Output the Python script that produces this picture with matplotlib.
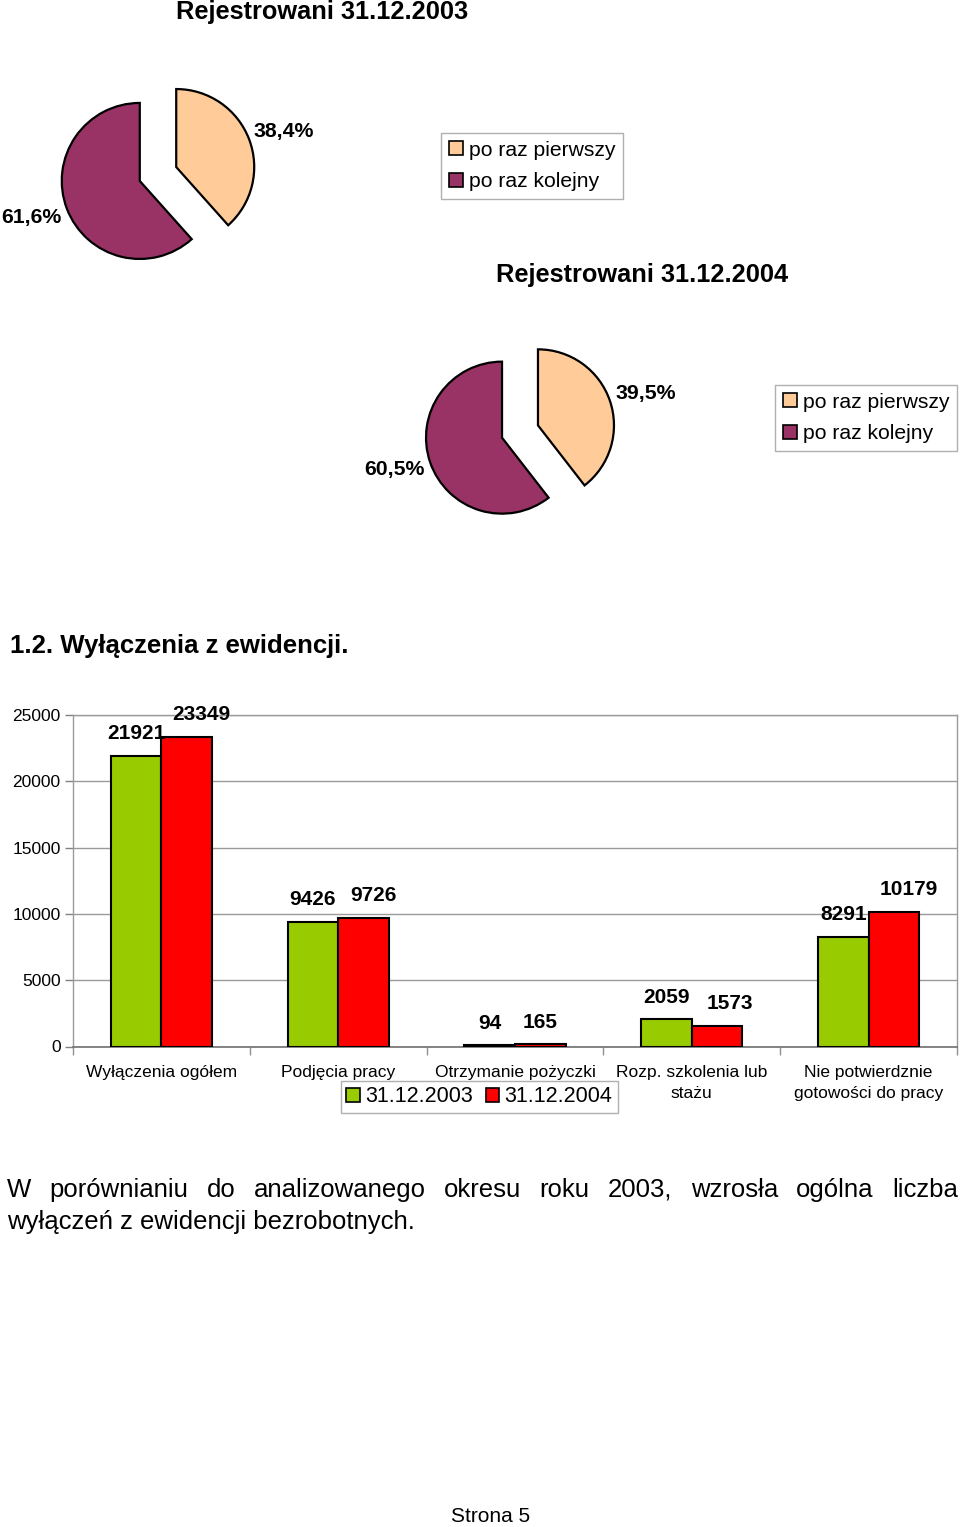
import matplotlib
matplotlib.use('Agg')
import matplotlib.pyplot as plt
from matplotlib.patches import Patch
import numpy as np

plt.rcParams['font.family'] = ['Liberation Sans', 'DejaVu Sans']

# ---------------- data ----------------
pie_labels = ['po raz pierwszy', 'po raz kolejny']
pie_2003 = [38.4, 61.6]
pie_2004 = [39.5, 60.5]
pie_titles = ['Rejestrowani 31.12.2003', 'Rejestrowani 31.12.2004']

section_title = '1.2. Wyłączenia z ewidencji.'
categories = ['Wyłączenia ogółem', 'Podjęcia pracy', 'Otrzymanie pożyczki',
              'Rozp. szkolenia lub\nstażu', 'Nie potwierdznie\ngotowości do pracy']
series_names = ['31.12.2003', '31.12.2004']
values_2003 = [21921, 9426, 94, 2059, 8291]
values_2004 = [23349, 9726, 165, 1573, 10179]
y_ticks = [0, 5000, 10000, 15000, 20000, 25000]

paragraph_line1 = 'W porównianiu do analizowanego okresu roku 2003, wzrosła ogólna liczba'
paragraph_line2 = 'wyłączeń z ewidencji bezrobotnych.'
footer = 'Strona 5'

# ---------------- style ----------------
W, H, DPI = 960, 1527, 100
pie_colors = ['#FFCC99', '#993366']
bar_colors = ['#99CC00', '#FF0000']
grid_color = '#9a9a9a'

fig = plt.figure(figsize=(W / DPI, H / DPI), dpi=DPI)


def fx(x):
    return x / W


def fy(y):
    return 1 - y / H


def add_pie(values, cx, cy, r, lab_pos, leg_pos):
    size = 2.5 * r
    ax = fig.add_axes([fx(cx - size / 2), fy(cy + size / 2), size / W, size / H])
    wedges, _ = ax.pie(values, colors=pie_colors, startangle=90, counterclock=False,
                       explode=[0.25, 0.25],
                       wedgeprops=dict(edgecolor='black', linewidth=1.6))
    ax.set_xlim(-1.25, 1.25)
    ax.set_ylim(-1.25, 1.25)
    ax.set_aspect('equal')
    ax.axis('off')
    for v, (lx, ly) in zip(values, lab_pos):
        fig.text(fx(lx), fy(ly), f'{v:.1f}%'.replace('.', ','), fontsize=15.3,
                 fontweight='bold', ha='center', va='center')
    handles = [Patch(facecolor=c, edgecolor='black', linewidth=1.2) for c in pie_colors]
    fig.legend(handles, pie_labels, loc='upper left',
               bbox_to_anchor=(fx(leg_pos[0]), fy(leg_pos[1])), borderaxespad=0,
               fontsize=15.2, frameon=True, fancybox=False, framealpha=1,
               edgecolor='#b0b0b0', handlelength=0.68, handleheight=0.68,
               handletextpad=0.3, borderpad=0.36, labelspacing=0.6)


# titles
fig.text(fx(322), fy(12), pie_titles[0], fontsize=18.3, fontweight='bold',
         ha='center', va='center')
fig.text(fx(642), fy(275), pie_titles[1], fontsize=18.3, fontweight='bold',
         ha='center', va='center')

add_pie(pie_2003, 158, 174, 78, [(284, 131), (31, 217)], (441, 133))
add_pie(pie_2004, 520, 431.5, 76, [(646, 393), (394, 470)], (775, 385))

fig.text(fx(10), fy(646), section_title, fontsize=18.5, fontweight='bold',
         ha='left', va='center')

# ---------------- bar chart ----------------
y0, y1 = 1046.5, 715
ax = fig.add_axes([fx(73), fy(y0), (957 - 73) / W, (y0 - y1) / H])
x = np.arange(len(categories))
bw = 0.286
ax.bar(x - bw / 2, values_2003, bw, color=bar_colors[0], edgecolor='black',
       linewidth=1.5, zorder=3)
ax.bar(x + bw / 2, values_2004, bw, color=bar_colors[1], edgecolor='black',
       linewidth=1.5, zorder=3)
ax.set_xlim(-0.5, len(categories) - 0.5)
ax.set_ylim(0, 25000)
ax.set_yticks(y_ticks)
ax.set_yticklabels([str(t) for t in y_ticks], fontsize=12.5)
ax.yaxis.grid(True, color=grid_color, linewidth=1, zorder=0)
ax.set_axisbelow(True)
ax.tick_params(axis='y', length=6, width=1, color='#808080', pad=3)
ax.set_xticks(x)
ax.set_xticklabels(categories, fontsize=12.5, linespacing=1.5)
ax.tick_params(axis='x', which='major', length=0, pad=13)
ax.set_xticks(np.arange(len(categories) + 1) - 0.5, minor=True)
ax.tick_params(axis='x', which='minor', length=6, width=1, color='#909090')
for s in ['top', 'right', 'left']:
    ax.spines[s].set_color(grid_color)
    ax.spines[s].set_linewidth(1)
ax.spines['bottom'].set_color('#707070')
ax.spines['bottom'].set_linewidth(1.2)

dx_2003 = [0, 0, 0, 0, 0]
dx_2004 = [15, 10, 0, 13, 15]
for i, v in enumerate(values_2003):
    ax.annotate(str(v), (x[i] - bw / 2, v), xytext=(dx_2003[i], 22),
                textcoords='offset pixels', ha='center', va='center',
                fontsize=15, fontweight='bold', zorder=5)
for i, v in enumerate(values_2004):
    ax.annotate(str(v), (x[i] + bw / 2, v), xytext=(dx_2004[i], 22),
                textcoords='offset pixels', ha='center', va='center',
                fontsize=15, fontweight='bold', zorder=5)

bar_handles = [Patch(facecolor=c, edgecolor='black', linewidth=1.2) for c in bar_colors]
fig.legend(bar_handles, series_names, loc='upper left', ncol=2,
           bbox_to_anchor=(fx(341), fy(1081)), borderaxespad=0,
           fontsize=15.5, frameon=True, fancybox=False, framealpha=1,
           edgecolor='#b0b0b0', handlelength=0.62, handleheight=0.62,
           handletextpad=0.25, columnspacing=0.6, borderpad=0.25)

# ---------------- paragraph (justified first line) ----------------
fig.canvas.draw()
renderer = fig.canvas.get_renderer()
words = paragraph_line1.split(' ')
left_px, right_px = 7, 958
texts = [fig.text(0, fy(1197), w, fontsize=18.5, ha='left', va='baseline') for w in words]
widths = [t.get_window_extent(renderer).width for t in texts]
gap = (right_px - left_px - sum(widths)) / (len(words) - 1)
cur = left_px
for t, w in zip(texts, widths):
    t.set_x(fx(cur))
    cur += w + gap
fig.text(fx(7), fy(1229), paragraph_line2, fontsize=18.5, ha='left', va='baseline')

fig.text(fx(491), fy(1516), footer, fontsize=15, ha='center', va='center')

fig.savefig('out.png', dpi=DPI)
